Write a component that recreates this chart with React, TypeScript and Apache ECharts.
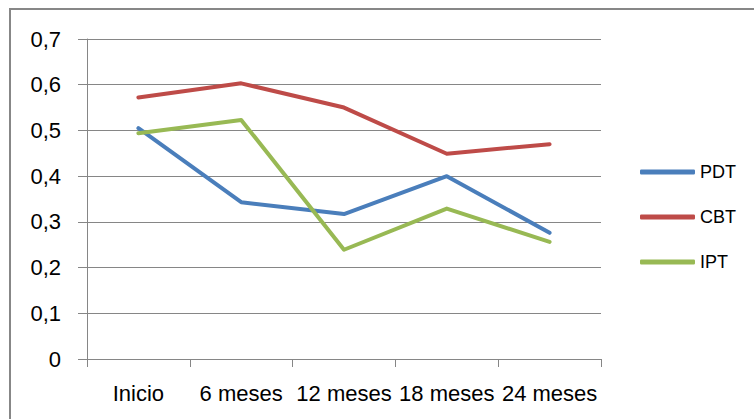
import React, { useEffect, useRef } from "react";
import * as echarts from "echarts";

const categories = ["Inicio", "6 meses", "12 meses", "18 meses", "24 meses"];
const pdt = [0.505, 0.343, 0.317, 0.4, 0.276];
const cbt = [0.572, 0.603, 0.55, 0.449, 0.47];
const ipt = [0.494, 0.523, 0.239, 0.329, 0.256];

export default function App() {
  const ref = useRef<HTMLDivElement>(null);
  useEffect(() => {
    if (!ref.current) return;
    const chart = echarts.init(ref.current, null, { renderer: "svg" });
    const font = "'Liberation Sans', Arial, sans-serif";
    const mk = (name: string, data: number[], color: string) => ({
      name,
      type: "line",
      data,
      symbol: "none",
      showSymbol: false,
      lineStyle: { color, width: 4, cap: "round", join: "round" },
      itemStyle: { color },
    });
    chart.setOption({
      animation: false,
      backgroundColor: "#fff",
      graphic: [
        {
          type: "rect",
          shape: { x: 10, y: 9, width: 800, height: 460 },
          style: { fill: "none", stroke: "#878787", lineWidth: 2 },
          silent: true,
        },
      ],
      grid: { left: 87, right: 153, top: 39, bottom: 60, containLabel: false },
      legend: {
        orient: "vertical",
        left: 635,
        top: 158,
        icon: "roundRect",
        itemWidth: 55,
        itemHeight: 5,
        itemGap: 27,
        textStyle: { fontFamily: font, fontSize: 18, color: "#000", lineHeight: 18 },
        data: ["PDT", "CBT", "IPT"],
      },
      xAxis: {
        type: "category",
        data: categories,
        boundaryGap: true,
        axisLine: { lineStyle: { color: "#868686", width: 1 } },
        axisTick: { show: true, length: 8, lineStyle: { color: "#868686" } },
        axisLabel: {
          fontFamily: font,
          fontSize: 22,
          color: "#000",
          margin: 23,
          interval: 0,
        },
      },
      yAxis: {
        type: "value",
        min: 0,
        max: 0.7,
        interval: 0.1,
        axisLine: { show: true, lineStyle: { color: "#868686", width: 1 } },
        axisTick: { show: true, length: 9, lineStyle: { color: "#868686" } },
        splitLine: { show: true, lineStyle: { color: "#868686", width: 1 } },
        axisLabel: {
          fontFamily: font,
          fontSize: 22,
          color: "#000",
          margin: 26,
          formatter: (v: number) => (Math.round(v * 10) / 10).toString().replace(".", ","),
        },
      },
      series: [
        mk("PDT", pdt, "#4A7EBB"),
        mk("CBT", cbt, "#BE4B48"),
        mk("IPT", ipt, "#98B954"),
      ],
    });
    return () => chart.dispose();
  }, []);
  return (
    <div
      ref={ref}
      style={{ position: "fixed", left: 0, top: 0, width: 754, height: 419, background: "#fff" }}
    />
  );
}
